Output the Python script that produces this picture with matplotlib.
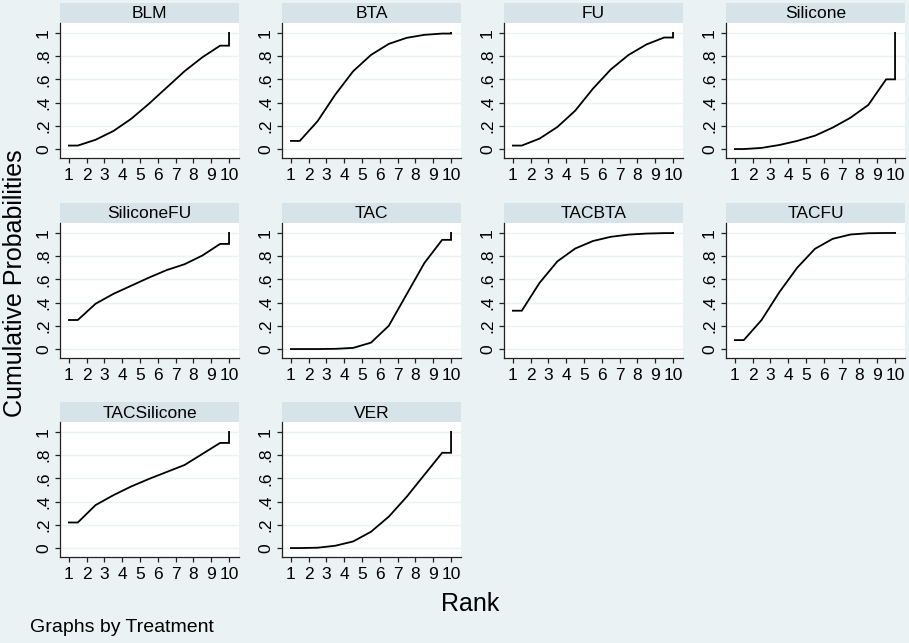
import numpy as np
import matplotlib
matplotlib.use("Agg")
import matplotlib.pyplot as plt

plt.rcParams['font.family'] = ['Liberation Sans', 'DejaVu Sans']

# cumulative rank probabilities for ranks 1..10
treatments = ["BLM", "BTA", "FU", "Silicone", "SiliconeFU",
              "TAC", "TACBTA", "TACFU", "TACSilicone", "VER"]
ranks = np.arange(1, 11)

blm = [0.03, 0.08, 0.155, 0.26, 0.39, 0.53, 0.67, 0.79, 0.89, 1.0]
bta = [0.07, 0.24, 0.47, 0.67, 0.81, 0.905, 0.957, 0.983, 0.994, 1.0]
fu = [0.03, 0.09, 0.19, 0.33, 0.52, 0.685, 0.81, 0.90, 0.96, 1.0]
silicone = [0.0, 0.01, 0.035, 0.07, 0.115, 0.185, 0.27, 0.38, 0.60, 1.0]
silicone_fu = [0.25, 0.39, 0.475, 0.545, 0.615, 0.68, 0.73, 0.805, 0.905, 1.0]
tac = [0.0, 0.0, 0.002, 0.01, 0.055, 0.20, 0.47, 0.74, 0.94, 1.0]
tac_bta = [0.33, 0.57, 0.755, 0.865, 0.93, 0.966, 0.985, 0.994, 0.998, 1.0]
tac_fu = [0.077, 0.25, 0.49, 0.70, 0.863, 0.949, 0.986, 0.997, 0.999, 1.0]
tac_silicone = [0.22, 0.37, 0.455, 0.53, 0.595, 0.655, 0.715, 0.81, 0.905, 1.0]
ver = [0.0, 0.003, 0.02, 0.057, 0.14, 0.27, 0.44, 0.63, 0.82, 1.0]

series = [blm, bta, fu, silicone, silicone_fu,
          tac, tac_bta, tac_fu, tac_silicone, ver]

BG = "#EAF2F3"
STRIP = "#D6E3E9"
GRID = "#EAF2F3"

W, H = 909, 643
fig = plt.figure(figsize=(W / 100, H / 100), dpi=100, facecolor=BG)

col_left = [60, 282, 504, 726]
row_top = [3, 203, 402]
panel_w = 179
strip_h = 20
plot_h = 135


def px_box(x, y, w, h):
    return [x / W, 1 - (y + h) / H, w / W, h / H]


def stata_line(vals):
    # flat first step, connect at half ranks, flat last step then jump to 1
    mids = ranks[1:-1] - 0.5
    xs = np.concatenate([[ranks[0]], [ranks[0] + 0.5], mids[1:], [ranks[-1] - 0.5], [ranks[-1]], [ranks[-1]]])
    v = np.asarray(vals)
    ys = np.concatenate([[v[0]], [v[0]], v[1:-1], [v[-2]], [v[-1]]])
    return xs, ys


for i, (name, vals) in enumerate(zip(treatments, series)):
    r, c = divmod(i, 4)
    x0 = col_left[c]
    y0 = row_top[r]

    sax = fig.add_axes(px_box(x0, y0, panel_w, strip_h))
    sax.set_facecolor(STRIP)
    sax.set_xticks([])
    sax.set_yticks([])
    for s in sax.spines.values():
        s.set_visible(False)
    sax.text(0.5, 0.45, name, ha="center", va="center", fontsize=12.5, transform=sax.transAxes)

    ax = fig.add_axes(px_box(x0, y0 + strip_h, panel_w, plot_h))
    ax.set_facecolor("white")
    xs, ys = stata_line(vals)
    ax.plot(xs, ys, color="black", lw=1.3, solid_joinstyle="miter")
    ax.set_xlim(0.5, 10.56)
    ax.set_ylim(-0.077, 1.085)
    ax.set_xticks(ranks)
    ax.set_yticks([0, 0.2, 0.4, 0.6, 0.8, 1.0])
    ax.set_yticklabels(["0", ".2", ".4", ".6", ".8", "1"], rotation=90, va="center")
    ax.grid(axis="y", color=GRID, lw=1.0)
    ax.set_axisbelow(True)
    ax.spines["top"].set_visible(False)
    ax.spines["right"].set_visible(False)
    for s in ("left", "bottom"):
        ax.spines[s].set_color("#222222")
        ax.spines[s].set_linewidth(0.9)
    ax.tick_params(axis="both", length=3.5, width=0.9, color="#222222", labelsize=12.5)
    ax.tick_params(axis="x", pad=4)
    ax.tick_params(axis="y", pad=3)

fig.text(15 / W, 1 - 283 / H, "Cumulative Probabilities", rotation=90,
         ha="center", va="center", fontsize=18)
fig.text(470 / W, 1 - 604 / H, "Rank", ha="center", va="center", fontsize=18)
fig.text(30 / W, 1 - 628 / H, "Graphs by Treatment", ha="left", va="center", fontsize=14)

fig.savefig("out.png", dpi=100, facecolor=BG)
